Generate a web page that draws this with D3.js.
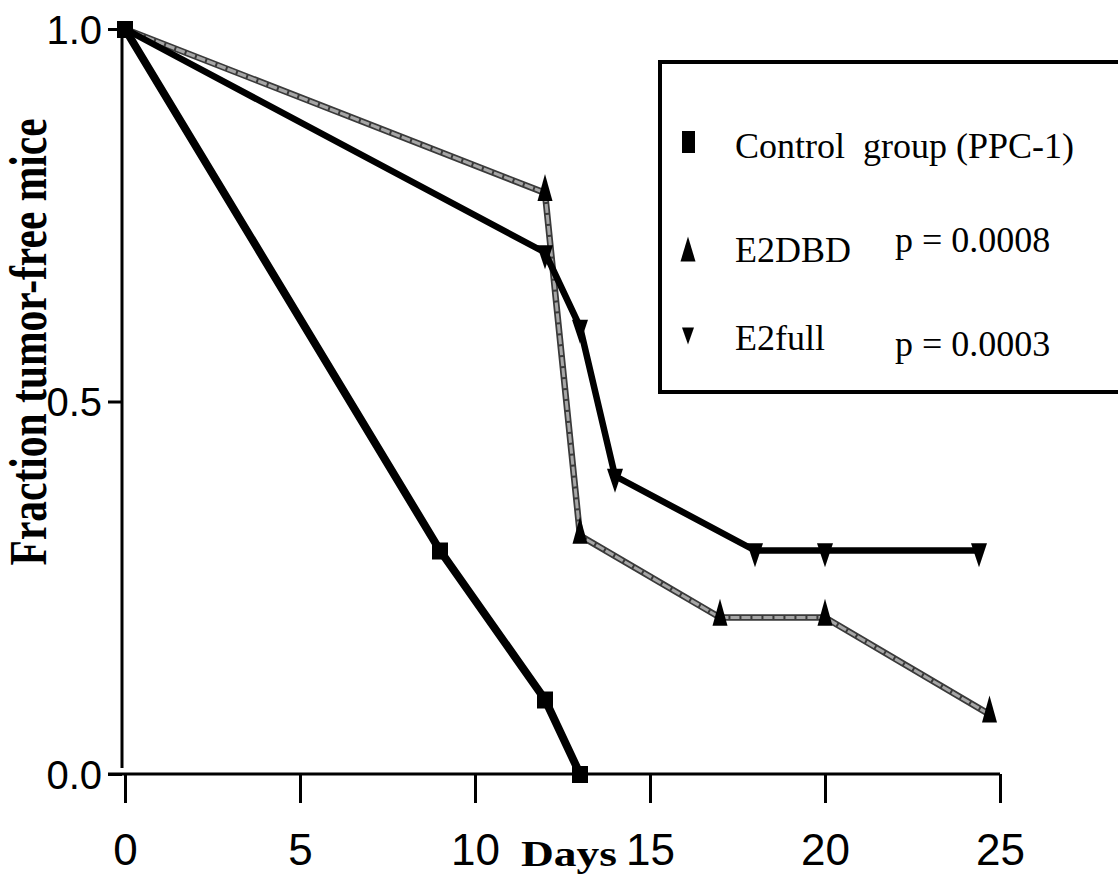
<!DOCTYPE html>
<html>
<head>
<meta charset="utf-8">
<script src="https://cdn.jsdelivr.net/npm/d3@7"></script>
<style>
  body { margin: 0; background: #fff; }
  svg { display: block; }
</style>
</head>
<body>
<svg id="chart" width="1118" height="882"></svg>
<script>
// survival data
var controlDays = [0, 9, 12, 13];
var controlFrac = [1.0, 0.3, 0.1, 0.0];
var e2dbdDays = [0, 12, 13, 17, 20, 24.7];
var e2dbdFrac = [1.0, 0.78, 0.32, 0.21, 0.21, 0.08];
var e2fullDays = [0, 12, 13, 14, 18, 20, 24.4];
var e2fullFrac = [1.0, 0.7, 0.6, 0.4, 0.3, 0.3, 0.3];
var xTicks = [0, 5, 10, 15, 20, 25];
var yTicks = [0, 0.5, 1.0];
var legendNames = ["Control  group (PPC-1)", "E2DBD", "E2full"];
var legendP = ["", "p = 0.0008", "p = 0.0003"];

var svg = d3.select("#chart");
var x = d3.scaleLinear().domain([0, 25]).range([125, 1000]);
var y = d3.scaleLinear().domain([0, 1]).range([774, 29]);

function zip(days, frac) {
    return days.map(function(d, i) { return {x: d, y: frac[i]}; });
}
var control = zip(controlDays, controlFrac),
    e2dbd = zip(e2dbdDays, e2dbdFrac),
    e2full = zip(e2fullDays, e2fullFrac);

//////////// AXES ////////////
var xAxis = svg.append("g")
    .attr("transform", "translate(0," + y(0) + ")")
    .call(d3.axisBottom(x).tickValues(xTicks).tickSize(29).tickSizeOuter(0).tickFormat(d3.format("d")));
xAxis.select(".domain").remove();
xAxis.selectAll(".tick line").attr("stroke", "#000").attr("stroke-width", 3);
xAxis.selectAll(".tick text")
    .attr("y", 91).attr("dy", 0)
    .attr("font-family", "'Liberation Sans', Arial, sans-serif")
    .attr("font-size", 44).attr("fill", "#000");
// x axis baseline runs a little past the y axis
svg.append("line")
    .attr("x1", x.range()[0] - 17).attr("x2", x.range()[1])
    .attr("y1", y(0)).attr("y2", y(0))
    .attr("stroke", "#000").attr("stroke-width", 3);

var yAxis = svg.append("g")
    .attr("transform", "translate(" + (x(0) - 3) + ",0)")
    .call(d3.axisLeft(y).tickValues(yTicks).tickSize(14).tickSizeOuter(0).tickFormat(d3.format(".1f")));
yAxis.select(".domain").remove();
yAxis.selectAll(".tick line").attr("stroke", "#000").attr("stroke-width", 3);
yAxis.selectAll(".tick text")
    .attr("x", -20).attr("dy", "0.36em")
    .attr("font-family", "'Liberation Sans', Arial, sans-serif")
    .attr("font-size", 40).attr("fill", "#000");
svg.append("line")
    .attr("x1", x(0) - 3).attr("x2", x(0) - 3)
    .attr("y1", y(1)).attr("y2", y(0) - 6)
    .attr("stroke", "#000").attr("stroke-width", 3);

// axis titles (the scanned fonts are condensed / stretched, so fit by length)
svg.append("text")
    .attr("transform", "translate(46," + y(0.58) + ") rotate(-90)")
    .attr("text-anchor", "middle")
    .attr("font-family", "'Liberation Serif', 'Times New Roman', serif")
    .attr("font-weight", "bold").attr("font-size", 52)
    .attr("textLength", 447).attr("lengthAdjust", "spacingAndGlyphs")
    .text("Fraction tumor-free mice");
svg.append("text")
    .attr("x", 569).attr("y", 866)
    .attr("text-anchor", "middle")
    .attr("font-family", "'Liberation Serif', 'Times New Roman', serif")
    .attr("font-weight", "bold").attr("font-size", 36)
    .attr("textLength", 96).attr("lengthAdjust", "spacingAndGlyphs")
    .text("Days");

//////////// LINES ////////////
var line = d3.line().x(function(d) { return x(d.x); }).y(function(d) { return y(d.y); });

// E2DBD: grey speckled line with dark edges
svg.append("path").datum(e2dbd).attr("d", line)
    .attr("fill", "none").attr("stroke", "#3a3a3a").attr("stroke-width", 6.5)
    .attr("stroke-linejoin", "round");
svg.append("path").datum(e2dbd).attr("d", line)
    .attr("fill", "none").attr("stroke", "#a6a6a6").attr("stroke-width", 3)
    .attr("stroke-linejoin", "round").attr("stroke-dasharray", "9 2");

svg.append("path").datum(e2full).attr("d", line)
    .attr("fill", "none").attr("stroke", "#000").attr("stroke-width", 6.5)
    .attr("stroke-linejoin", "round");

svg.append("path").datum(control).attr("d", line)
    .attr("fill", "none").attr("stroke", "#000").attr("stroke-width", 8)
    .attr("stroke-linejoin", "round");

//////////// MARKERS ////////////
function triUp(w, h) {
    // apex well above the point, base slightly below
    return "M0," + (-h * 0.7) + "L" + (w / 2) + "," + (h * 0.3) + "L" + (-w / 2) + "," + (h * 0.3) + "Z";
}
function triDown(w, h) {
    return "M" + (-w / 2) + "," + (-h * 0.3) + "L" + (w / 2) + "," + (-h * 0.3) + "L0," + (h * 0.7) + "Z";
}

svg.append("g").selectAll("rect").data(control).enter().append("rect")
    .attr("x", function(d) { return x(d.x) - 8; })
    .attr("y", function(d) { return y(d.y) - 8; })
    .attr("width", 16).attr("height", 17)
    .attr("fill", "#000");

svg.append("g").selectAll("path").data(e2dbd.slice(1)).enter().append("path")
    .attr("transform", function(d) { return "translate(" + x(d.x) + "," + y(d.y) + ")"; })
    .attr("d", triUp(15, 27))
    .attr("fill", "#000");

svg.append("g").selectAll("path").data(e2full.slice(1)).enter().append("path")
    .attr("transform", function(d) { return "translate(" + x(d.x) + "," + y(d.y) + ")"; })
    .attr("d", triDown(16, 24))
    .attr("fill", "#000");

//////////// LEGEND ////////////
var legend = svg.append("g");
legend.append("rect")
    .attr("x", 660).attr("y", 62).attr("width", 480).attr("height", 330)
    .attr("fill", "#fff").attr("stroke", "#000").attr("stroke-width", 4);

var rowY = [158, 262, 350];
var pY = [0, 252, 356];
var markY = [142, 249, 336];
legend.append("rect")
    .attr("x", 682).attr("y", markY[0] - 11).attr("width", 13).attr("height", 22).attr("fill", "#000");
legend.append("path")
    .attr("transform", "translate(688," + markY[1] + ")")
    .attr("d", "M0,-12.5L7.5,12.5L-7.5,12.5Z").attr("fill", "#000");
legend.append("path")
    .attr("transform", "translate(688," + markY[2] + ")")
    .attr("d", "M-6,-8.5L6,-8.5L0,8.5Z").attr("fill", "#000");

legend.selectAll("text.name").data(legendNames).enter().append("text")
    .attr("class", "name")
    .attr("x", 735).attr("y", function(d, i) { return rowY[i]; })
    .attr("font-family", "'Liberation Serif', 'Times New Roman', serif")
    .attr("font-size", 36).attr("xml:space", "preserve")
    .text(function(d) { return d; });
legend.selectAll("text.p").data(legendP).enter().append("text")
    .attr("class", "p")
    .attr("x", 895).attr("y", function(d, i) { return pY[i]; })
    .attr("font-family", "'Liberation Serif', 'Times New Roman', serif")
    .attr("font-size", 36)
    .text(function(d) { return d; });
</script>
</body>
</html>
